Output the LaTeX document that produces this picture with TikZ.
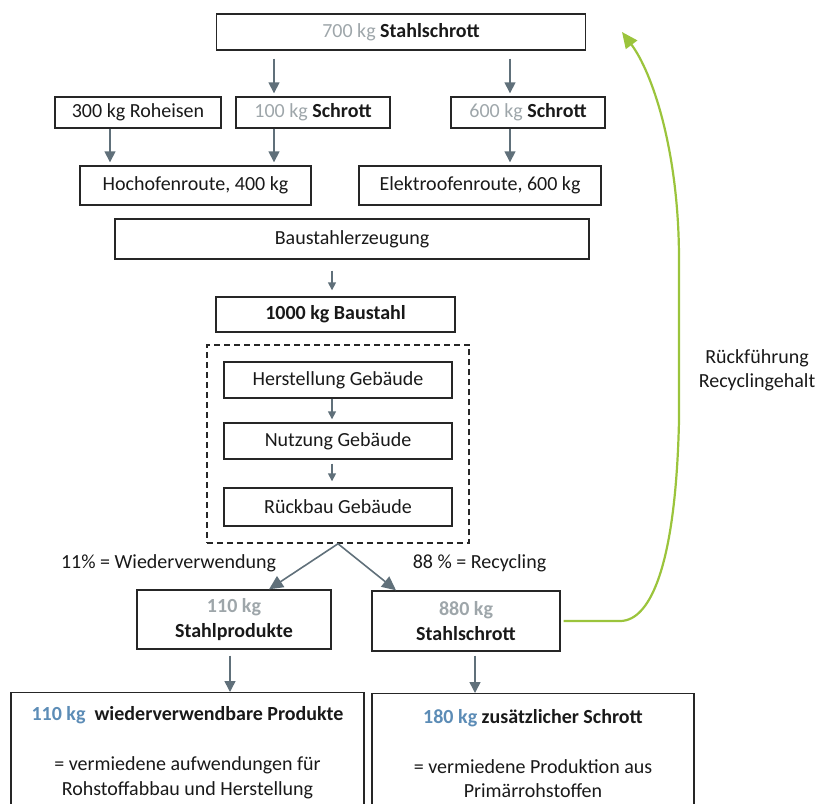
\documentclass[tikz,border=0pt]{standalone}
\usepackage{fontspec}
\setmainfont{Carlito}
\usetikzlibrary{arrows.meta,positioning,fit,calc}
\definecolor{kgGray}{RGB}{158,166,170}
\definecolor{kgBlue}{RGB}{92,140,182}
\definecolor{arrGray}{RGB}{96,112,122}
\definecolor{backGreen}{RGB}{155,196,60}
\newcommand{\kgG}[1]{\textcolor{kgGray}{#1}}
\newcommand{\kgB}[1]{\textcolor{kgBlue}{\textbf{#1}}}
\tikzset{
    flowBox/.style={
        rectangle,
        draw=black!85,
        line width=0.7pt,
        inner sep=2pt,
        minimum height=18pt,
        align=center,
        text=black!90,
        font=\fontsize{10}{12.2}\selectfont
    },
    lifeBox/.style={draw=black!85, line width=0.65pt, dash pattern=on 3pt off 2pt, inner sep=8.2pt},
    flowLabel/.style={font=\fontsize{10}{12.2}\selectfont, text=black!90, align=center, inner sep=0pt},
    % Arrows
    flowArrow/.style={-{Triangle[length=5.5pt,width=5.5pt]}, draw=arrGray, line width=0.75pt},
    smallArrow/.style={-{Triangle[length=4pt,width=4pt]}, draw=arrGray, line width=0.75pt},
    splitArrow/.style={-{Triangle[length=7pt,width=6.5pt]}, draw=arrGray, line width=0.8pt},
    backArrow/.style={-{Triangle[length=8pt,width=7pt]}, draw=backGreen, line width=1.1pt}
}
\begin{document}
\begin{tikzpicture}[x=0.5pt, y=-0.5pt]
\path[use as bounding box, clip] (0,0) rectangle (818,803);

% Herkunft des Schrotts
\node[flowBox, minimum width=184.5pt] (top) at (401,32) {\kgG{700 kg} \textbf{Stahlschrott}};
\node[flowBox, minimum width=83pt, minimum height=15.5pt] (roh) at (138,112.5) {300 kg Roheisen};
\node[flowBox, minimum width=77pt, minimum height=15.5pt] (schrA) at (313,112.5) {\kgG{100 kg} \textbf{Schrott}};
\node[flowBox, minimum width=77pt, minimum height=15.5pt] (schrB) at (528,112.5) {\kgG{600 kg} \textbf{Schrott}};
\node[flowBox, minimum width=115.5pt, minimum height=19.5pt] (hoch) at (195.5,185.5) {Hochofenroute, 400 kg};
\node[flowBox, minimum width=121pt, minimum height=19.5pt] (elek) at (480,185.5) {Elektroofenroute, 600 kg};
\node[flowBox, minimum width=237pt, minimum height=20pt] (bau) at (352,239) {Baustahlerzeugung};
\node[flowBox, minimum width=119.5pt, minimum height=17.5pt] (stahl) at (335.5,314.5) {\textbf{1000 kg Baustahl}};

% Lebenszyklus Gebaeude
\node[flowBox, minimum width=114pt] (herst) at (338,380) {Herstellung Geb\"aude};
\node[flowBox, minimum width=114pt] (nutz) at (338,441) {Nutzung Geb\"aude};
\node[flowBox, minimum width=114pt, minimum height=19pt] (rueck) at (338,507) {R\"uckbau Geb\"aude};
\node[lifeBox, fit=(herst)(nutz)(rueck)] (life) {};

% Verwertung
\node[flowBox, minimum width=97pt, minimum height=29.5pt] (prod) at (234,619.5) {\kgG{\textbf{110 kg}}\\\textbf{Stahlprodukte}};
\node[flowBox, minimum width=94pt, minimum height=30pt] (scrap) at (466,621) {\kgG{\textbf{880 kg}}\\\textbf{Stahlschrott}};
\node[flowBox, anchor=north, minimum width=176.5pt, minimum height=60pt] (reuse) at (187.5,692)
    {\kgB{110 kg}\ \ \textbf{wiederverwendbare Produkte}\\[12.8pt]= vermiedene aufwendungen f\"ur\\Rohstoffabbau und Herstellung};
\node[flowBox, anchor=north, minimum width=161pt, minimum height=60pt] (extra) at (533,693)
    {\kgB{180 kg} \textbf{zus\"atzlicher Schrott}\\[12.8pt]= vermiedene Produktion aus\\Prim\"arrohstoffen};

\node[flowLabel] (lblReuse) at (168.5,563) {11\% = Wiederverwendung};
\node[flowLabel] (lblRec) at (479.5,563) {88 \% = Recycling};
\node[flowLabel] (lblBack) at (757,370) {R\"uckf\"uhrung\\Recyclingehalt};

% Pfeile
\coordinate (xRoh) at (110,0);
\coordinate (xSchrA) at (274,0);
\coordinate (xSchrB) at (510,0);
\coordinate (xMid) at (332,0);
\coordinate (xSplitL) at (269,0);
\coordinate (xSplitR) at (396,0);
\coordinate (xProd) at (230,0);
\coordinate (xScrap) at (475,0);
\coordinate (ret) at (622,32);

\draw[flowArrow, shorten <=4pt, shorten >=1.5pt] (top.south -| xSchrA) -- (schrA.north -| xSchrA);
\draw[flowArrow, shorten <=4pt, shorten >=1.5pt] (top.south -| xSchrB) -- (schrB.north -| xSchrB);
\draw[flowArrow, shorten >=1.5pt] (roh.south -| xRoh) -- (hoch.north -| xRoh);
\draw[flowArrow, shorten >=1.5pt] (schrA.south -| xSchrA) -- (hoch.north -| xSchrA);
\draw[flowArrow, shorten >=1.5pt] (schrB.south -| xSchrB) -- (elek.north -| xSchrB);
\draw[smallArrow, shorten <=5.5pt, shorten >=3pt] (bau.south -| xMid) -- (stahl.north -| xMid);
\draw[smallArrow, shorten >=1.5pt] (herst.south -| xMid) -- (nutz.north -| xMid);
\draw[smallArrow, shorten <=2pt, shorten >=3pt] (nutz.south -| xMid) -- (rueck.north -| xMid);
\draw[splitArrow] (life.south) -- (prod.north -| xSplitL);
\draw[splitArrow] (life.south) -- (scrap.north -| xSplitR);
\draw[flowArrow, shorten <=3pt] (prod.south -| xProd) -- (reuse.north -| xProd);
\draw[flowArrow, shorten <=2pt] (scrap.south -| xScrap) -- (extra.north -| xScrap);

% Rueckfuehrung
\draw[backArrow, shorten <=1.5pt] (scrap.east) -- (620,621)
    .. controls (652,621) and (676,560) .. (679,420) -- (679,260)
    .. controls (679,150) and (652,72) .. (ret);
\end{tikzpicture}
\end{document}
